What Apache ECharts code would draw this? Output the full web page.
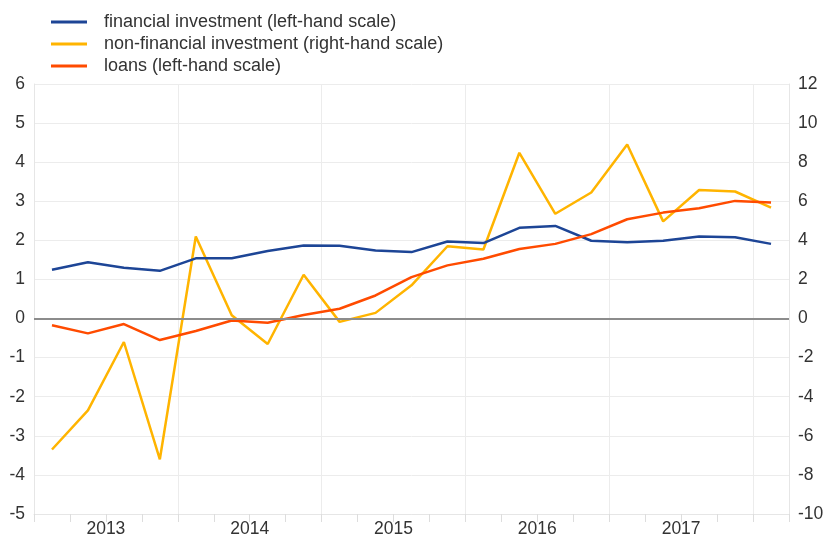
<!DOCTYPE html>
<html>
<head>
<meta charset="utf-8">
<script src="https://cdn.jsdelivr.net/npm/echarts@6/dist/echarts.min.js"></script>
<style>
html,body{margin:0;padding:0;background:#fff;}
#chart{width:827px;height:538px;}
</style>
</head>
<body>
<div id="chart"></div>
<script>
// Quarterly categories 2013Q1 - 2018Q1
const quarters = ['2013Q1','2013Q2','2013Q3','2013Q4','2014Q1','2014Q2','2014Q3','2014Q4','2015Q1','2015Q2','2015Q3','2015Q4','2016Q1','2016Q2','2016Q3','2016Q4','2017Q1','2017Q2','2017Q3','2017Q4','2018Q1'];
// financial investment (left-hand scale)
const financialInvestment = [1.25,1.44,1.30,1.22,1.54,1.54,1.73,1.87,1.86,1.74,1.70,1.97,1.93,2.32,2.37,1.99,1.95,1.99,2.10,2.08,1.91];
// non-financial investment (right-hand scale)
const nonFinancialInvestment = [-6.7,-4.7,-1.2,-7.2,4.2,0.17,-1.3,2.24,-0.17,0.29,1.7,3.7,3.53,8.48,5.36,6.45,8.9,4.97,6.58,6.5,5.68];
// loans (left-hand scale)
const loans = [-0.17,-0.38,-0.14,-0.55,-0.32,-0.05,-0.11,0.09,0.25,0.59,1.06,1.36,1.53,1.78,1.91,2.16,2.54,2.71,2.82,3.01,2.97];
const leftTicks = {min:-5, max:6, interval:1};
const rightTicks = {min:-10, max:12, interval:2};

const seriesNames = ['financial investment (left-hand scale)','non-financial investment (right-hand scale)','loans (left-hand scale)'];
const colors = ['#1d4596','#ffb400','#ff4b00'];

const chart = echarts.init(document.getElementById('chart'), null, {renderer:'canvas'});
const font = 'Liberation Sans, Arial, sans-serif';
const labelStyle = {color:'#333', fontSize:17.5, fontFamily:font};
chart.setOption({
  animation:false,
  color: colors,
  textStyle:{fontFamily:font},
  legend:{
    left:46, top:8, orient:'vertical', itemGap:4,
    itemWidth:36, itemHeight:3,
    icon:'rect',
    textStyle:{color:'#333', fontSize:18, fontFamily:font, padding:[0,0,0,12]},
    data: seriesNames
  },
  grid:{left:34, right:38, top:84, bottom:22, containLabel:false},
  xAxis:{
    type:'category', data:quarters, boundaryGap:true,
    axisLine:{show:true, onZero:false, lineStyle:{color:'#e6e6e6'}},
    axisTick:{show:true, interval:0, length:8, lineStyle:{color:'#dddddd'}},
    splitLine:{show:true, interval:(i)=> i % 4 === 0, lineStyle:{color:'#ececec'}},
    axisLabel:{
      interval:(i)=> i % 4 === 2,
      formatter:(v)=> v.slice(0,4),
      align:'center', padding:[0,36,0,0], margin:6,
      ...labelStyle
    }
  },
  yAxis:[
    {type:'value', position:'left', min:leftTicks.min, max:leftTicks.max, interval:leftTicks.interval,
     axisLine:{show:true, lineStyle:{color:'#e6e6e6'}}, axisTick:{show:false},
     splitLine:{show:true, lineStyle:{color:'#ececec'}},
     axisLabel:{margin:9, ...labelStyle}},
    {type:'value', position:'right', min:rightTicks.min, max:rightTicks.max, interval:rightTicks.interval,
     axisLine:{show:true, lineStyle:{color:'#e6e6e6'}}, axisTick:{show:false},
     splitLine:{show:false},
     axisLabel:{margin:9, ...labelStyle}}
  ],
  series:[
    {name:seriesNames[0], type:'line', yAxisIndex:0, data:financialInvestment, symbol:'none', lineStyle:{width:2.5}, z:3,
     markLine:{silent:true, symbol:'none', label:{show:false}, lineStyle:{color:'#8c8c8c', width:2, type:'solid'}, data:[{yAxis:0}]}},
    {name:seriesNames[1], type:'line', yAxisIndex:1, data:nonFinancialInvestment, symbol:'none', lineStyle:{width:2.5}, z:2},
    {name:seriesNames[2], type:'line', yAxisIndex:0, data:loans, symbol:'none', lineStyle:{width:2.5}, z:4}
  ]
});
</script>
</body>
</html>
